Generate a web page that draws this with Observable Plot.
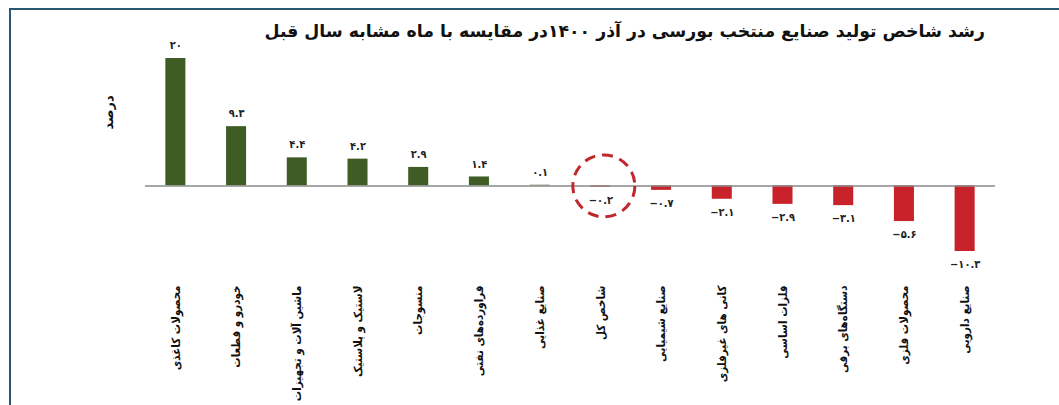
<!DOCTYPE html>
<html><head><meta charset="utf-8">
<script src="https://cdn.jsdelivr.net/npm/d3@7"></script>
<script src="https://cdn.jsdelivr.net/npm/@observablehq/plot@0.6"></script>
<style>
body{margin:0;background:#fff;}
#wrap{position:relative;width:1059px;height:405px;overflow:hidden;background:#fff;}
#frame{position:absolute;left:9px;top:8px;width:1100px;height:420px;border-top:2px solid #2a5670;border-left:2px solid #2a5670;}
#title{position:absolute;right:74px;top:21px;font:bold 17.3px "DejaVu Sans";direction:rtl;white-space:nowrap;color:#111;}
#chart{position:absolute;left:0;top:0;}
</style></head>
<body><div id="wrap"><div id="frame"></div><div id="title">رشد شاخص تولید صنایع منتخب بورسی در آذر ۱۴۰۰در مقایسه با ماه مشابه سال قبل</div><div id="chart"></div></div>
<script>
const categories = ["محصولات کاغذی","خودرو و قطعات","ماشین آلات و تجهیزات","لاستیک و پلاستیک","منسوجات","فراورده‌های نفتی","صنایع غذایی","شاخص کل","صنایع شیمیایی","کانی های غیرفلزی","فلزات اساسی","دستگاه‌های برقی","محصولات فلزی","صنایع دارویی"];
const values = [20, 9.3, 4.4, 4.2, 2.9, 1.4, 0.1, -0.2, -0.7, -2.1, -2.9, -3.1, -5.6, -10.3];
const highlighted = ["شاخص کل"];
const yLabel = "درصد";

const faDigits = "۰۱۲۳۴۵۶۷۸۹";
const toFa = v => (v < 0 ? "−" : "") + String(Math.abs(v)).replace(/\d/g, d => faDigits[+d]);
const data = categories.map((name, i) => ({name, value: values[i], label: toFa(values[i])}));
const pos = data.filter(d => d.value >= 0);
const neg = data.filter(d => d.value < 0);

const chart = Plot.plot({
  width: 1059,
  height: 405,
  marginLeft: 145,
  marginRight: 64,
  marginTop: 58,
  marginBottom: 154,
  style: {fontFamily: "DejaVu Sans Condensed", fontSize: "12px", background: "transparent", color: "#111"},
  x: {domain: categories, paddingInner: 0.67, paddingOuter: 0.335, round: false},
  y: {domain: [-10.3, 20], axis: null},
  marks: [
    Plot.barY(data, {x: "name", y: "value", fill: d => d.value >= 0 ? "#3e5c23" : "#c8222b"}),
    Plot.ruleY([0], {stroke: "#8a8a8a", strokeWidth: 1.5}),
    Plot.text(pos, {x: "name", y: "value", text: "label", dy: -13, fontWeight: "bold", fontSize: 11, fill: "#222"}),
    Plot.text(neg, {x: "name", y: "value", text: "label", dy: 13, fontWeight: "bold", fontSize: 11, fill: "#222"}),
    Plot.dot(data.filter(d => highlighted.includes(d.name)), {x: "name", y: () => 0, r: 31, dx: 3, stroke: "#c0272d", strokeWidth: 3, strokeDasharray: "11,7", fill: "none"}),
    Plot.axisX({tickSize: 0, tickPadding: 34, tickRotate: -90, fontSize: 11.5, fontWeight: "bold", label: null}),
    Plot.text([yLabel], {frameAnchor: "top-left", dx: -37, dy: 54, rotate: -90, textAnchor: "middle", lineAnchor: "middle", fontWeight: "bold", fontSize: 13, fontFamily: "DejaVu Sans"})
  ]
});
document.getElementById("chart").appendChild(chart);
</script>
</body></html>
